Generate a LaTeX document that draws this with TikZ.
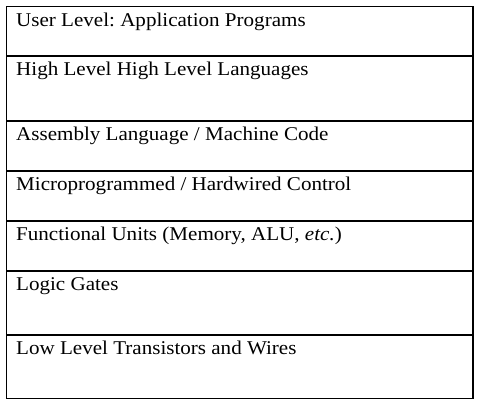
\documentclass[tikz,border=0pt]{standalone}
\usepackage{fontspec}
\setmainfont[FakeStretch=1.08]{Liberation Serif}
\begin{document}
\frenchspacing
\begin{tikzpicture}[x=1pt,y=-1pt,
  layer/.style={draw=black,line width=1.4pt,inner sep=0pt,outer sep=0pt,anchor=north west,minimum width=466.5pt},
  label/.style={anchor=base west,inner sep=0pt,font=\fontsize{19.5}{23}\selectfont}]
\useasboundingbox (0,0) rectangle (480,406);
% levels of the machine, top to bottom: top edge, bottom edge, text
\foreach \n/\t/\b/\txt in {
  l1/6.5/56/{User Level: Application Programs},
  l2/56/121/{High Level High Level Languages},
  l3/121/171/{Assembly Language / Machine Code},
  l4/171/221/{Microprogrammed / Hardwired Control},
  l5/221/271/{Functional Units (Memory, ALU, \textit{etc.})},
  l6/271/335/{Logic Gates},
  l7/335/398.5/{Low Level Transistors and Wires}}{
  \pgfmathsetmacro{\h}{\b-\t}
  \node[layer,minimum height=\h pt] (\n) at (6.5,\t) {};
  \node[label] (\n-text) at (16,\t+19.8) {\txt};
}
\end{tikzpicture}
\end{document}
